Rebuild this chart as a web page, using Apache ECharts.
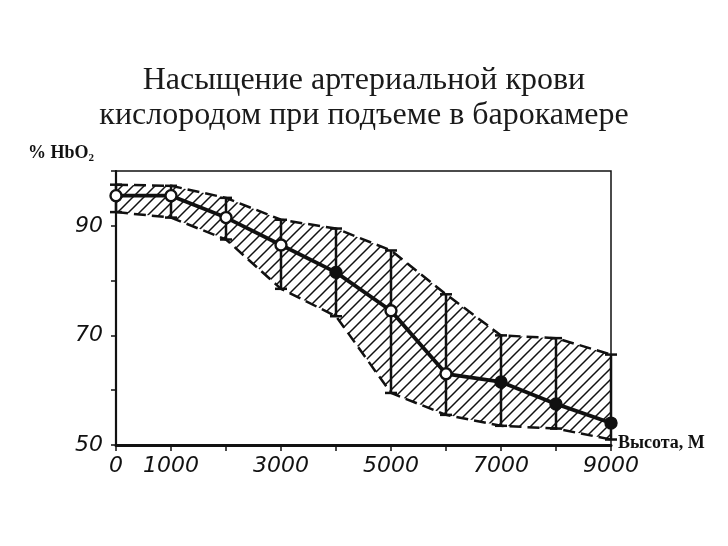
<!DOCTYPE html>
<html>
<head>
<meta charset="utf-8">
<script src="https://cdn.jsdelivr.net/npm/echarts@6/dist/echarts.min.js"></script>
<style>
  html, body { margin: 0; padding: 0; background: #fff; }
  #chart { width: 728px; height: 546px; }
</style>
</head>
<body>
<div id="chart"></div>
<script>
// высота, м
var heights = [0, 1000, 2000, 3000, 4000, 5000, 6000, 7000, 8000, 9000];
// средние значения % HbO2
var meanSat = [95.5, 95.5, 91.5, 86.5, 81.5, 74.5, 63, 61.5, 57.5, 54];
// границы разброса (верх / низ)
var upperSat = [97.5, 97.3, 95.1, 91.1, 89.5, 85.5, 77.5, 70, 69.5, 66.5];
var lowerSat = [92.5, 91.5, 87.5, 78.5, 73.5, 59.5, 55.5, 53.5, 53, 51];
// залитые маркеры
var filledAt = [4000, 7000, 8000, 9000];
// подписи осей
var xLabels = [0, 1000, 3000, 5000, 7000, 9000];
var yLabels = [50, 70, 90];

// штриховка
function makeHatch() {
    var s = 11, c = document.createElement('canvas');
    c.width = s; c.height = s;
    var ctx = c.getContext('2d');
    ctx.strokeStyle = '#111';
    ctx.lineWidth = 1.5;
    ctx.beginPath();
    ctx.moveTo(0, s); ctx.lineTo(s, 0);
    ctx.moveTo(-s / 2, s / 2); ctx.lineTo(s / 2, -s / 2);
    ctx.moveTo(s / 2, s * 1.5); ctx.lineTo(s * 1.5, s / 2);
    ctx.stroke();
    return c;
}
var hatch = makeHatch();

var lowerData = [], upperData = [], meanData = [], barData = [];
for (var i = 0; i < heights.length; i++) {
    lowerData.push([heights[i], lowerSat[i]]);
    upperData.push([heights[i], upperSat[i]]);
    barData.push([heights[i], lowerSat[i], upperSat[i]]);
    var full = filledAt.indexOf(heights[i]) >= 0;
    meanData.push({
        value: [heights[i], meanSat[i]],
        itemStyle: { color: full ? '#111' : '#fff', borderColor: '#111', borderWidth: 2.4 }
    });
}

var chart = echarts.init(document.getElementById('chart'));
var tickFont = { fontFamily: 'DejaVu Sans', fontStyle: 'italic', fontSize: 22, color: '#111' };
var dashed = { color: '#111', width: 2.5, type: [12, 6] };

var option = {
    animation: false,
    backgroundColor: '#fff',
    title: {
        text: 'Насыщение артериальной крови\nкислородом при подъеме в барокамере',
        left: 'center',
        top: 58,
        textStyle: {
            fontFamily: 'Liberation Serif', fontWeight: 'normal',
            fontSize: 32, lineHeight: 35, color: '#1a1a1a'
        }
    },
    grid: {
        left: 116, right: 117, top: 171, bottom: 101,
        show: true, borderColor: '#111', borderWidth: 1.5
    },
    xAxis: {
        type: 'value', min: 0, max: 9000, interval: 1000,
        splitLine: { show: false },
        axisLine: { lineStyle: { color: '#111', width: 3 } },
        axisTick: { length: 6, lineStyle: { color: '#111', width: 1.5 } },
        axisLabel: Object.assign({
            margin: 10,
            formatter: function (v) { return xLabels.indexOf(v) >= 0 ? String(v) : ''; }
        }, tickFont)
    },
    yAxis: {
        type: 'value', min: 50, max: 100, interval: 10,
        splitLine: { show: false },
        axisLine: { show: true, lineStyle: { color: '#111', width: 2.2 } },
        axisTick: { show: true, length: 5, lineStyle: { color: '#111', width: 1.5 } },
        axisLabel: Object.assign({
            margin: 13,
            formatter: function (v) { return yLabels.indexOf(v) >= 0 ? String(v) : ''; }
        }, tickFont)
    },
    graphic: [
        {
            type: 'text', left: 28, top: 144,
            style: {
                text: '{a|% HbO}{b|2}',
                rich: {
                    a: { fontFamily: 'Liberation Serif', fontWeight: 'bold', fontSize: 18, fill: '#111' },
                    b: { fontFamily: 'Liberation Serif', fontWeight: 'bold', fontSize: 11, fill: '#111', padding: [11, 0, 0, 0] }
                }
            }
        },
        {
            type: 'text', left: 618, top: 434,
            style: { text: 'Высота, М', font: 'bold 18px "Liberation Serif"', fill: '#111' }
        }
    ],
    series: [
        {
            // заштрихованная полоса разброса
            type: 'custom', data: barData, z: 1, silent: true,
            renderItem: function (params, api) {
                if (params.dataIndex !== 0) return null;
                var pts = [], k;
                for (k = 0; k < heights.length; k++) pts.push(api.coord([heights[k], upperSat[k]]));
                for (k = heights.length - 1; k >= 0; k--) pts.push(api.coord([heights[k], lowerSat[k]]));
                return {
                    type: 'polygon',
                    shape: { points: pts },
                    style: { fill: { image: hatch, repeat: 'repeat' }, stroke: null }
                };
            }
        },
        {
            type: 'line', data: upperData, symbol: 'none', z: 2, lineStyle: dashed
        },
        {
            type: 'line', data: lowerData, symbol: 'none', z: 2, lineStyle: dashed
        },
        {
            // разброс
            type: 'custom', data: barData, z: 3,
            renderItem: function (params, api) {
                var top = api.coord([api.value(0), api.value(2)]);
                var bot = api.coord([api.value(0), api.value(1)]);
                var st = { stroke: '#111', lineWidth: 2.5 };
                var w = 6;
                return {
                    type: 'group',
                    children: [
                        { type: 'line', shape: { x1: top[0], y1: top[1], x2: bot[0], y2: bot[1] }, style: st },
                        { type: 'line', shape: { x1: top[0] - w, y1: top[1], x2: top[0] + w, y2: top[1] }, style: st },
                        { type: 'line', shape: { x1: bot[0] - w, y1: bot[1], x2: bot[0] + w, y2: bot[1] }, style: st }
                    ]
                };
            }
        },
        {
            type: 'line', data: meanData, z: 4,
            symbol: 'circle', symbolSize: 11,
            lineStyle: { color: '#111', width: 3.8 }
        }
    ]
};
chart.setOption(option);
</script>
</body>
</html>
